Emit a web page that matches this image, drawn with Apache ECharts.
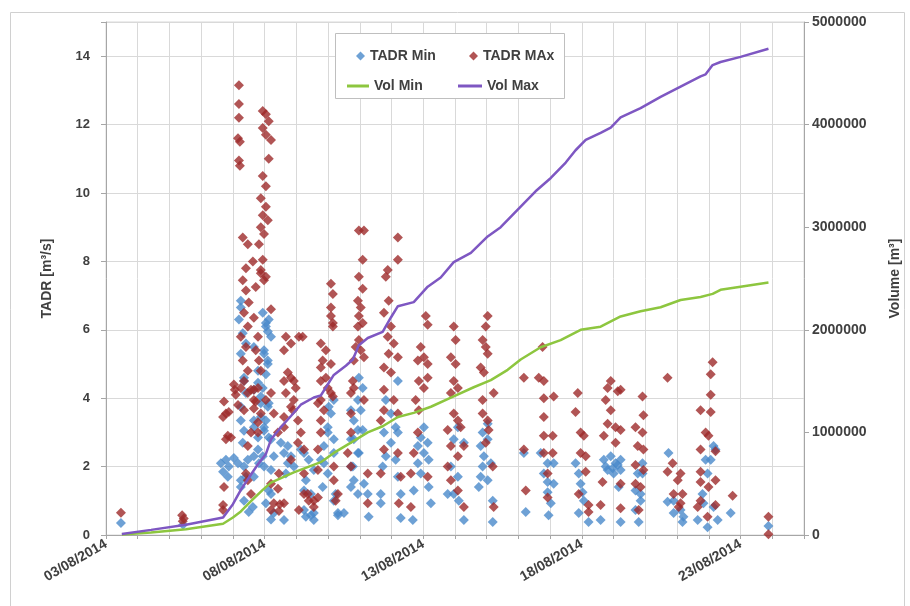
<!DOCTYPE html>
<html><head><meta charset="utf-8">
<script src="https://cdn.jsdelivr.net/npm/echarts@6/dist/echarts.min.js"></script>
<style>html,body{margin:0;padding:0;background:#fff}#c{width:910px;height:606px}</style>
</head><body><div id="c"></div>
<script>
// x values are days since 03/08/2014 00:00
const startDate = [2014, 8, 3];
const xLabelEvery = 5;
const seriesNames = ['TADR Min', 'TADR MAx', 'Vol Min', 'Vol Max'];

const tadrMin = [
[0.47,0.35],[2.43,0.30],
[3.62,2.1],[3.78,2.2],[3.87,2.0],[3.69,1.85],[3.84,1.7],[4.03,2.25],[4.35,4.5],[4.79,4.45],[4.35,3.05],[4.66,3.15],[4.79,2.85],[4.47,2.2],[4.66,2.3],[4.82,2.1],[4.98,3.05],[4.88,3.45],[4.25,3.35],[4.16,2.1],[4.25,1.6],[4.50,0.67],[4.63,0.82],[4.35,2.0],[4.88,3.85],
[4.25,6.85],[4.25,6.65],[4.19,6.3],[4.31,5.9],[4.41,5.6],[4.25,5.3],[4.35,4.6],[4.41,4.15],[4.25,3.75],[4.31,2.7],[4.41,1.7],[4.25,1.4],[4.35,1.0],
[4.94,6.5],[5.13,6.3],[5.04,6.1],[5.20,5.8],[4.98,5.4],[5.10,5.1],[5.04,4.7],[4.94,4.3],[5.13,3.85],[5.04,3.35],[5.13,2.85],[4.94,2.3],[5.20,1.9],[5.13,1.3],[5.04,0.93],[5.20,0.45],
[5.04,6.2],[5.10,5.95],[4.66,5.5],[4.98,5.3],[5.10,5.0],[4.79,4.8],[4.66,4.25],[4.88,4.05],[5.10,3.75],[4.66,3.35],[4.98,3.15],[5.20,2.8],[4.79,2.5],[5.29,2.3],[4.98,2.0],[4.66,1.7],[5.20,1.2],[5.29,0.64],
[5.51,2.7],[5.61,2.4],[5.73,2.1],[5.67,1.8],[5.61,0.44],[5.73,2.6],[5.83,2.3],[5.92,2.0],[6.14,2.5],[6.24,1.3],[6.30,0.53],[6.55,0.64],
[6.24,2.4],[6.39,2.2],[6.55,1.9],[6.30,1.6],[6.46,1.2],[6.24,0.73],[6.55,0.44],
[6.87,2.6],[6.99,3.0],[7.02,3.75],[6.77,2.2],[6.99,1.8],[7.18,2.4],[6.83,1.4],[7.24,1.2],[7.31,0.64],[7.18,3.95],[7.09,3.55],[6.99,3.15],[7.18,2.8],[6.87,2.1],[7.18,1.0],[6.46,0.58],[7.31,0.58],
[7.50,0.64],[7.72,3.65],[7.81,3.35],[7.94,3.07],[7.72,2.8],[7.94,2.4],[7.72,2.0],[7.81,1.6],[7.72,1.4],[7.94,1.2],
[7.97,4.6],[8.09,4.3],[7.94,3.95],[8.03,3.65],[8.09,3.07],[7.81,2.8],[7.97,2.4],[7.78,2.0],[8.13,1.5],[8.25,1.2],[8.28,0.53],
[8.66,0.93],[9.20,4.5],[8.82,3.95],[8.98,3.55],[9.13,3.15],[8.76,3.0],[9.20,3.0],[8.98,2.7],[8.82,2.3],[9.13,2.2],[8.72,2.0],[9.20,1.7],[8.66,1.2],[9.29,1.2],[9.29,0.5],
[9.67,0.44],[10.02,3.15],[9.92,2.85],[10.14,2.7],[9.83,2.6],[10.02,2.4],[10.17,2.2],[9.83,2.1],[9.92,1.8],[9.70,1.3],[10.17,1.4],[10.24,0.93],
[11.09,3.15],[10.96,2.8],[11.28,2.7],[10.87,2.0],[11.09,1.7],[10.77,1.2],[10.96,1.2],[11.12,1.0],[11.28,0.44],
[12.03,3.25],[11.87,3.0],[12.03,2.8],[11.81,2.6],[11.91,2.3],[11.87,2.0],[12.13,2.1],[11.81,1.7],[12.03,1.6],[12.19,1.0],[12.19,0.38],[11.75,1.4],
[13.17,2.4],[13.23,0.67],
[13.70,2.4],[13.92,2.1],[14.11,2.1],[13.80,1.8],[13.92,1.55],[14.11,1.5],[13.92,1.25],[14.02,0.93],[13.95,0.58],
[14.80,2.1],[14.90,1.8],[14.96,1.5],[15.02,1.25],[15.06,1.0],[14.90,0.64],[15.21,0.38],
[15.91,2.3],[15.69,2.2],[16.06,2.1],[15.81,1.9],[16.00,1.8],[16.16,1.4],[15.59,0.44],[16.22,0.38],[16.22,2.2],[16.22,1.9],[15.75,2.0],[15.97,1.95],[16.13,2.05],
[16.91,2.1],[16.76,1.8],[16.69,1.3],[16.85,1.0],[16.69,0.73],[16.79,0.38],[16.91,1.8],[16.85,1.2],
[17.73,2.4],[17.89,1.0],[18.11,0.73],[18.20,0.53],[17.70,0.97],[17.89,0.64],[18.17,0.38],
[19.15,2.6],[19.06,2.2],[18.96,1.8],[18.80,1.2],[18.83,0.93],[18.65,0.44],[18.96,0.23],[19.28,0.44],[19.15,0.82],[19.21,2.5],[18.90,2.2],
[19.69,0.64],[20.88,0.26]
];

const tadrMax = [
[0.47,0.65],
[2.40,0.58],[2.45,0.48],[2.42,0.40],
[4.03,4.4],[4.06,4.25],[3.72,3.9],[3.78,3.55],[3.87,3.6],[3.69,3.45],[3.84,2.9],[3.94,2.85],[3.78,2.8],[3.72,1.4],[3.69,0.88],[3.69,0.73],
[4.09,4.1],[4.25,4.3],[4.47,4.15],[4.66,4.25],[4.16,3.8],[4.35,3.65],[4.66,3.7],[4.79,3.3],[4.57,3.0],[4.47,2.6],[4.41,1.8],[4.47,1.6],[4.57,1.2],[4.72,3.9],[5.04,3.95],
[4.19,13.15],[4.19,12.6],[4.19,12.2],[4.16,11.6],[4.22,11.5],[4.19,10.95],[4.22,10.8],
[4.94,12.4],[5.04,12.3],[5.13,12.1],[4.94,11.9],[5.04,11.7],[5.20,11.55],[5.13,11.0],[4.94,10.5],[5.04,10.2],[4.88,9.85],[5.04,9.6],[4.94,9.35],[5.10,9.2],[4.88,9.0],[4.98,8.8],[4.82,8.5],[4.94,8.05],[4.88,7.75],[5.04,7.55],[4.72,7.25],[5.20,6.6],
[4.88,7.65],[4.98,7.45],[4.66,6.35],[4.79,5.8],[4.72,5.4],[4.82,5.1],[4.88,4.8],[4.79,4.3],[4.66,3.95],[4.88,3.55],[4.79,3.0],[5.29,3.55],[5.20,4.15],
[4.31,8.7],[4.47,8.5],[4.63,8.0],[4.41,7.8],[4.31,7.45],[4.41,7.15],[4.50,6.8],[4.35,6.5],[4.47,6.1],[4.25,5.8],[4.41,5.5],[4.31,5.1],[4.47,4.8],[4.35,4.5],[4.57,4.25],
[5.67,5.8],[5.83,5.6],[5.61,5.4],[5.83,4.6],[5.98,4.3],[5.67,4.15],[5.89,3.65],[5.61,3.15],[6.05,2.7],[5.83,2.2],[5.61,0.93],[6.08,0.73],
[5.73,4.75],[5.61,4.5],[5.92,4.5],[5.92,3.95],[5.83,3.75],[5.61,3.45],[6.05,3.35],[6.08,5.8],[5.42,3.0],[6.14,3.0],
[5.45,1.8],[5.42,1.35],[5.48,0.9],[5.45,0.7],[5.20,1.5],[5.29,0.93],[5.20,0.73],[6.24,1.2],[6.39,1.0],[6.55,0.82],[6.24,2.5],[6.68,1.9],
[7.09,7.35],[7.15,7.05],[7.09,6.65],[7.15,6.2],[6.77,5.6],[6.93,5.4],[6.83,5.1],[7.09,5.0],[6.77,4.5],[6.99,4.3],[7.09,4.15],[6.77,3.95],[6.87,3.65],[6.77,3.0],[6.68,2.5],[7.18,2.0],[7.18,1.6],[7.31,1.2],[7.24,1.0],
[7.09,6.4],[7.15,6.1],[6.77,4.9],[6.93,4.6],[7.15,4.05],[6.68,3.85],[6.77,3.35],[6.24,1.8],[6.36,1.2],[6.55,1.0],[6.68,1.1],[6.20,5.8],
[7.97,8.9],[8.13,8.9],[8.09,8.05],[7.97,7.55],[8.09,7.2],[7.94,6.85],[8.03,6.65],[7.97,6.4],[8.09,6.2],[7.94,6.1],[7.97,5.7],[7.87,5.5],[8.03,5.4],[7.81,5.1],[8.13,5.2],[7.78,4.5],[7.81,4.3],[7.72,4.15],[8.13,3.95],[7.72,3.55],[7.72,3.0],[7.62,2.4],[7.72,2.0],[8.25,1.8],[8.25,0.93],
[9.20,8.7],[9.20,8.05],[8.88,7.75],[8.82,7.55],[8.91,6.85],[8.76,6.5],[8.98,6.1],[8.88,5.8],[9.07,5.6],[8.91,5.3],[9.20,5.2],[8.76,4.9],[8.98,4.75],[8.76,4.25],[9.07,3.95],[8.76,3.65],[9.20,3.55],[8.66,3.35],[8.76,2.5],[9.20,2.4],[8.66,1.8],[9.29,1.7],[9.23,0.93],
[10.08,6.4],[10.14,6.15],[9.92,5.5],[10.02,5.2],[9.83,5.1],[10.14,5.0],[9.86,4.5],[10.02,4.3],[10.14,4.6],[9.76,3.95],[9.86,3.65],[9.83,3.0],[9.70,2.4],[9.61,1.8],[10.14,1.7],[9.61,0.82],
[10.96,6.1],[11.02,5.7],[10.87,5.2],[11.02,5.0],[10.96,4.5],[11.09,4.3],[10.87,4.15],[10.96,3.55],[11.09,3.35],[10.77,3.07],[10.87,2.6],[11.09,2.3],[11.18,3.15],[11.28,2.6],[10.77,2.0],[10.87,1.6],[11.09,1.3],[11.28,0.82],
[12.03,6.4],[11.97,6.1],[11.87,5.7],[11.97,5.5],[12.03,5.3],[11.81,4.9],[11.91,4.75],[12.22,4.15],[11.87,3.95],[11.87,3.55],[12.03,3.35],[12.06,3.07],[11.97,2.7],[12.19,2.0],[12.22,0.82],
[13.17,4.6],[13.17,2.5],[13.23,1.3],
[13.76,5.5],[13.64,4.6],[13.80,4.5],[13.80,4.0],[14.11,4.05],[13.80,3.45],[13.80,2.9],[14.08,2.9],[13.80,2.4],[14.08,2.4],[13.92,1.8],[13.92,1.1],
[14.87,4.15],[14.80,3.6],[14.96,3.0],[15.06,2.9],[14.96,2.4],[15.12,2.3],[15.12,1.85],[14.90,1.2],[15.21,0.88],[15.21,0.67],
[15.91,4.5],[15.81,4.3],[16.13,4.2],[15.75,3.95],[15.91,3.65],[15.81,3.25],[16.06,3.15],[15.69,2.9],[16.06,2.7],[15.65,1.55],[15.59,0.88],[16.22,0.78],[16.22,4.25],[16.22,3.07],[16.22,1.5],
[16.91,4.05],[16.94,3.5],[16.69,3.15],[16.91,3.0],[16.76,2.6],[16.94,2.5],[16.69,2.05],[16.94,1.9],[16.69,1.5],[16.85,1.4],[16.79,0.73],
[17.70,4.6],[17.86,2.1],[17.70,1.85],[18.11,1.8],[18.02,1.6],[17.89,1.2],[18.17,1.2],[18.11,0.93],[18.05,0.82],
[19.12,5.05],[19.06,4.7],[19.06,4.1],[18.74,3.65],[19.06,3.6],[18.90,3.0],[18.99,2.9],[18.74,2.5],[19.21,2.45],[18.74,1.85],[18.74,1.55],[18.99,1.4],[19.21,1.6],[18.74,1.0],[19.21,0.88],[18.65,0.82],[18.96,0.53],
[19.75,1.15],[20.88,0.53],[20.88,0.02]
];

const volMin = [
[0.50,5000],[1.42,25000],[2.52,55000],[3.69,110000],[4.00,170000],[4.25,230000],[4.57,330000],[4.94,440000],[5.20,510000],[5.92,610000],[6.77,710000],[7.18,800000],[7.72,900000],[8.25,1000000],[8.72,1060000],[9.20,1150000],[9.70,1190000],[10.24,1250000],[10.87,1340000],[11.59,1440000],[12.13,1510000],[12.66,1610000],[13.07,1710000],[13.70,1830000],[14.33,1900000],[14.96,2000000],[15.59,2030000],[16.22,2130000],[16.85,2180000],[17.48,2220000],[18.11,2290000],[18.74,2320000],[19.12,2350000],[19.37,2390000],[20.00,2420000],[20.88,2460000]
];

const volMax = [
[0.50,10000],[1.42,50000],[2.52,100000],[3.69,170000],[4.00,300000],[4.25,440000],[4.57,590000],[4.79,690000],[5.04,790000],[5.20,930000],[5.51,1050000],[5.83,1160000],[6.14,1270000],[6.55,1340000],[6.77,1360000],[7.18,1560000],[7.56,1650000],[7.78,1710000],[7.97,1850000],[8.25,1920000],[8.72,1980000],[8.98,2120000],[9.20,2230000],[9.70,2270000],[10.14,2420000],[10.55,2510000],[10.96,2660000],[11.50,2750000],[12.03,2910000],[12.44,3000000],[13.07,3200000],[13.54,3350000],[14.02,3480000],[14.49,3630000],[14.80,3750000],[15.12,3850000],[15.59,3920000],[15.91,3970000],[16.22,4070000],[16.85,4160000],[17.48,4270000],[18.11,4370000],[18.74,4470000],[18.90,4490000],[19.12,4580000],[19.37,4610000],[20.00,4660000],[20.88,4740000]
];

const FONT = 'Liberation Sans';
const TXT = '#404040';
const AXIS = '#A6A6A6';
const GRID = '#D9D9D9';
const COLORS = ['#4A8ACB', '#9E2A2B', '#8DC63F', '#7E57C2'];

function fmtDate(v) {
  if (Math.abs(v % xLabelEvery) > 1e-9 || v > 20) return '';
  const d = new Date(startDate[0], startDate[1] - 1, startDate[2] + v);
  const p = n => (n < 10 ? '0' : '') + n;
  return p(d.getDate()) + '/' + p(d.getMonth() + 1) + '/' + d.getFullYear();
}

const lblStyle = {fontFamily: FONT, fontWeight: 'bold', fontSize: 13, color: TXT};
const lblStyle14 = {fontFamily: FONT, fontWeight: 'bold', fontSize: 14, color: TXT};
const legText = {fontFamily: FONT, fontWeight: 'bold', fontSize: 14, color: TXT};

const chart = echarts.init(document.getElementById('c'));
chart.setOption({
  animation: false,
  backgroundColor: '#fff',
  grid: {left: 106, right: 105, top: 22, bottom: 71, show: true, borderColor: GRID, borderWidth: 1, backgroundColor: 'transparent'},
  xAxis: {
    type: 'value', min: 0, max: 22, interval: 1,
    axisLine: {show: true, onZero: false, lineStyle: {color: AXIS}},
    axisTick: {show: true, length: 4, lineStyle: {color: AXIS}},
    splitLine: {show: true, lineStyle: {color: GRID}},
    axisLabel: Object.assign({rotate: 30, margin: 8, formatter: fmtDate}, lblStyle14)
  },
  yAxis: [{
    type: 'value', min: 0, max: 15, interval: 2, position: 'left',
    name: 'TADR [m³/s]', nameLocation: 'middle', nameRotate: 90, nameGap: 52,
    nameTextStyle: {fontFamily: FONT, fontWeight: 'bold', fontSize: 14, color: TXT},
    axisLine: {show: true, lineStyle: {color: AXIS}},
    axisTick: {show: true, length: 5, lineStyle: {color: AXIS}},
    splitLine: {show: true, lineStyle: {color: GRID}},
    axisLabel: Object.assign({margin: 16, formatter: v => (v > 14 ? '' : String(v))}, lblStyle)
  }, {
    type: 'value', min: 0, max: 5000000, interval: 1000000, position: 'right',
    name: 'Volume [m³]', nameLocation: 'middle', nameRotate: 90, nameGap: 84,
    nameTextStyle: {fontFamily: FONT, fontWeight: 'bold', fontSize: 14, color: TXT},
    axisLine: {show: true, lineStyle: {color: AXIS}},
    axisTick: {show: true, length: 5, lineStyle: {color: AXIS}},
    splitLine: {show: false},
    axisLabel: Object.assign({margin: 8, formatter: v => String(v)}, lblStyle14)
  }],
  legend: [
    {data: [seriesNames[0]], left: 351, top: 44, icon: 'diamond', itemWidth: 9, itemHeight: 9, textStyle: legText, selectedMode: false, z: 10},
    {data: [seriesNames[1]], left: 464, top: 44, icon: 'diamond', itemWidth: 9, itemHeight: 9, textStyle: legText, selectedMode: false, z: 10},
    {data: [seriesNames[2]], left: 342, top: 74, icon: 'rect', itemWidth: 22, itemHeight: 3, textStyle: legText, selectedMode: false, z: 10},
    {data: [seriesNames[3]], left: 453, top: 74, icon: 'rect', itemWidth: 24, itemHeight: 3, textStyle: legText, selectedMode: false, z: 10}
  ],
  graphic: [
    {type: 'rect', left: 8, top: 10, z: -10, silent: true,
     shape: {width: 894, height: 600}, style: {fill: 'none', stroke: '#D0D0D0', lineWidth: 1}},
    {type: 'rect', left: 335, top: 33, z: 8, silent: true,
     shape: {width: 229, height: 65}, style: {fill: '#fff', stroke: '#BFBFBF', lineWidth: 1}}
  ],
  series: [
    {name: seriesNames[0], type: 'scatter', data: tadrMin, yAxisIndex: 0, symbol: 'diamond', symbolSize: 10,
     itemStyle: {color: COLORS[0]}, z: 2},
    {name: seriesNames[1], type: 'scatter', data: tadrMax, yAxisIndex: 0, symbol: 'diamond', symbolSize: 10,
     itemStyle: {color: COLORS[1]}, z: 3},
    {name: seriesNames[2], type: 'line', data: volMin, yAxisIndex: 1, showSymbol: false, symbol: 'none',
     lineStyle: {color: COLORS[2], width: 2.5}, itemStyle: {color: COLORS[2]}, z: 4},
    {name: seriesNames[3], type: 'line', data: volMax, yAxisIndex: 1, showSymbol: false, symbol: 'none',
     lineStyle: {color: COLORS[3], width: 2.5}, itemStyle: {color: COLORS[3]}, z: 5}
  ]
});
</script>
</body></html>
